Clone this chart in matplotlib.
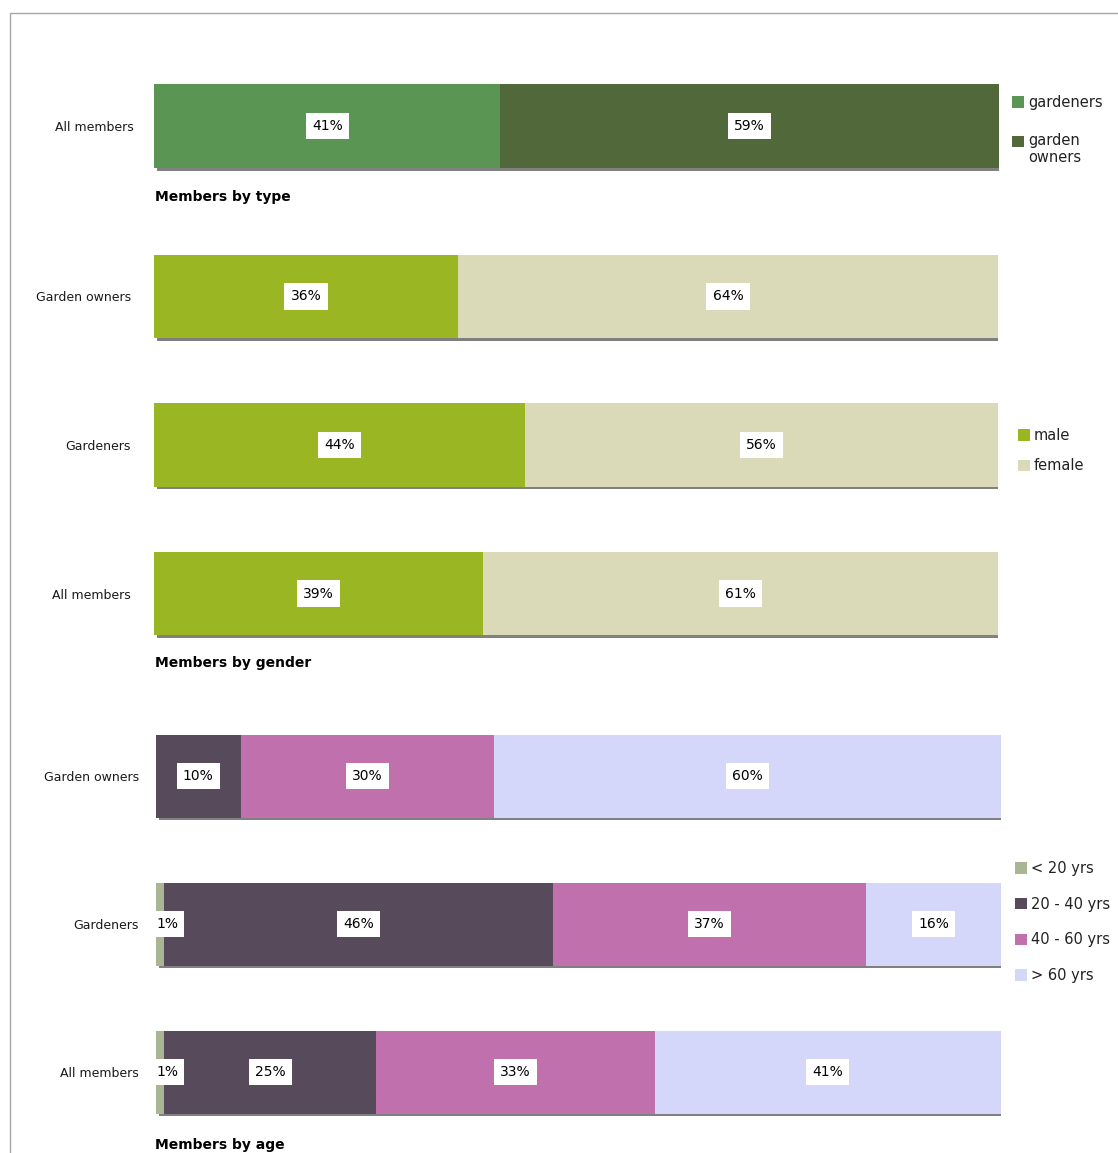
import matplotlib
matplotlib.use('Agg')
import matplotlib.pyplot as plt
import matplotlib.patheffects as pe
from matplotlib.patches import Patch, Rectangle
import numpy as np

plt.rcParams['font.family'] = ['DejaVu Sans']

# data
type_rows = ['All members']
type_series = ['gardeners', 'garden\nowners']
type_values = [[41], [59]]
type_colors = ['#5b9553', '#50683a']

gender_rows = ['Garden owners', 'Gardeners', 'All members']
gender_series = ['male', 'female']
gender_values = [[36, 44, 39], [64, 56, 61]]
gender_colors = ['#9ab723', '#dadab8']

age_rows = ['Garden owners', 'Gardeners', 'All members']
age_series = ['< 20 yrs', '20 - 40 yrs', '40 - 60 yrs', '> 60 yrs']
age_values = [[0, 1, 1], [10, 46, 25], [30, 37, 33], [60, 16, 41]]
age_colors = ['#a9b595', '#574b5b', '#bf70ad', '#d4d6fa']

W, H = 1118, 1153
fig = plt.figure(figsize=(W / 100, H / 100), dpi=100)

shadow = [pe.SimplePatchShadow(offset=(2, -2), shadow_rgbFace='#808080', alpha=1), pe.Normal()]


def panel(rect, rows, series, values, colors, bar_h, pad):
    ax = fig.add_axes([rect[0] / W, 1 - rect[3] / H, (rect[2] - rect[0]) / W, (rect[3] - rect[1]) / H])
    pos = np.arange(len(rows))
    left = np.zeros(len(rows))
    for name, vals, col in zip(series, values, colors):
        vals = np.array(vals, dtype=float)
        ax.barh(pos, vals, left=left, height=bar_h, color=col, path_effects=shadow)
        for p, l, v in zip(pos, left, vals):
            if v <= 0:
                continue
            if v < 3:
                x, ha = l, 'left'
            else:
                x, ha = l + v / 2, 'center'
            ax.text(x, p, '%d%%' % v, ha=ha, va='center', fontsize=10, color='black',
                    bbox=dict(boxstyle='square,pad=0.45', fc='white', ec='none'))
        left += vals
    ax.set_xlim(0, 100)
    ax.set_ylim(len(rows) - 0.5, -0.5)
    ax.set_yticks(pos)
    ax.set_yticklabels(rows, fontsize=9, color='#1a1a1a')
    ax.tick_params(axis='y', length=0, pad=pad)
    ax.set_xticks([])
    for s in ax.spines.values():
        s.set_visible(False)
    ax.patch.set_alpha(0)
    return ax


# rects in pixel coords: left, top, right, bottom
panel((154, 52, 999, 200), type_rows, type_series, type_values, type_colors, 84 / 148, 14.5)
panel((154, 222, 998, 668), gender_rows, gender_series, gender_values, gender_colors, 83 / 148.5, 16.5)
panel((156, 702, 1001, 1146), age_rows, age_series, age_values, age_colors, 83 / 148, 12.5)

titles = [('Members by type', 197), ('Members by gender', 663), ('Members by age', 1145)]
for t, y in titles:
    fig.text(155 / W, 1 - y / H, t, fontsize=10, fontweight='bold', va='center', ha='left')


def legend(series, colors, x, y, spacing):
    handles = [Patch(facecolor=c, edgecolor='none') for c in colors]
    return fig.legend(handles, series, loc='upper left', bbox_to_anchor=(x / W, 1 - y / H),
                      frameon=False, fontsize=10.5, handlelength=0.8, handleheight=0.8,
                      handletextpad=0.3, labelspacing=spacing, borderpad=0, borderaxespad=0,
                      labelcolor='#222222')


leg = legend(type_series, type_colors, 1012, 95, 1.57)
# align the two-line entry's square with its first line
h2 = leg.legend_handles[1]
h2.set_y(h2.get_y() + 6)
legend(gender_series, gender_colors, 1018, 428, 1.05)
legend(age_series, age_colors, 1015, 861, 1.42)

# outer frame
fig.add_artist(Rectangle((10 / W, -0.1), 1.2, 1.1 - 13 / H, transform=fig.transFigure,
                         fill=False, ec='#a6a6a6', lw=1))

fig.savefig('out.png', dpi=100)
